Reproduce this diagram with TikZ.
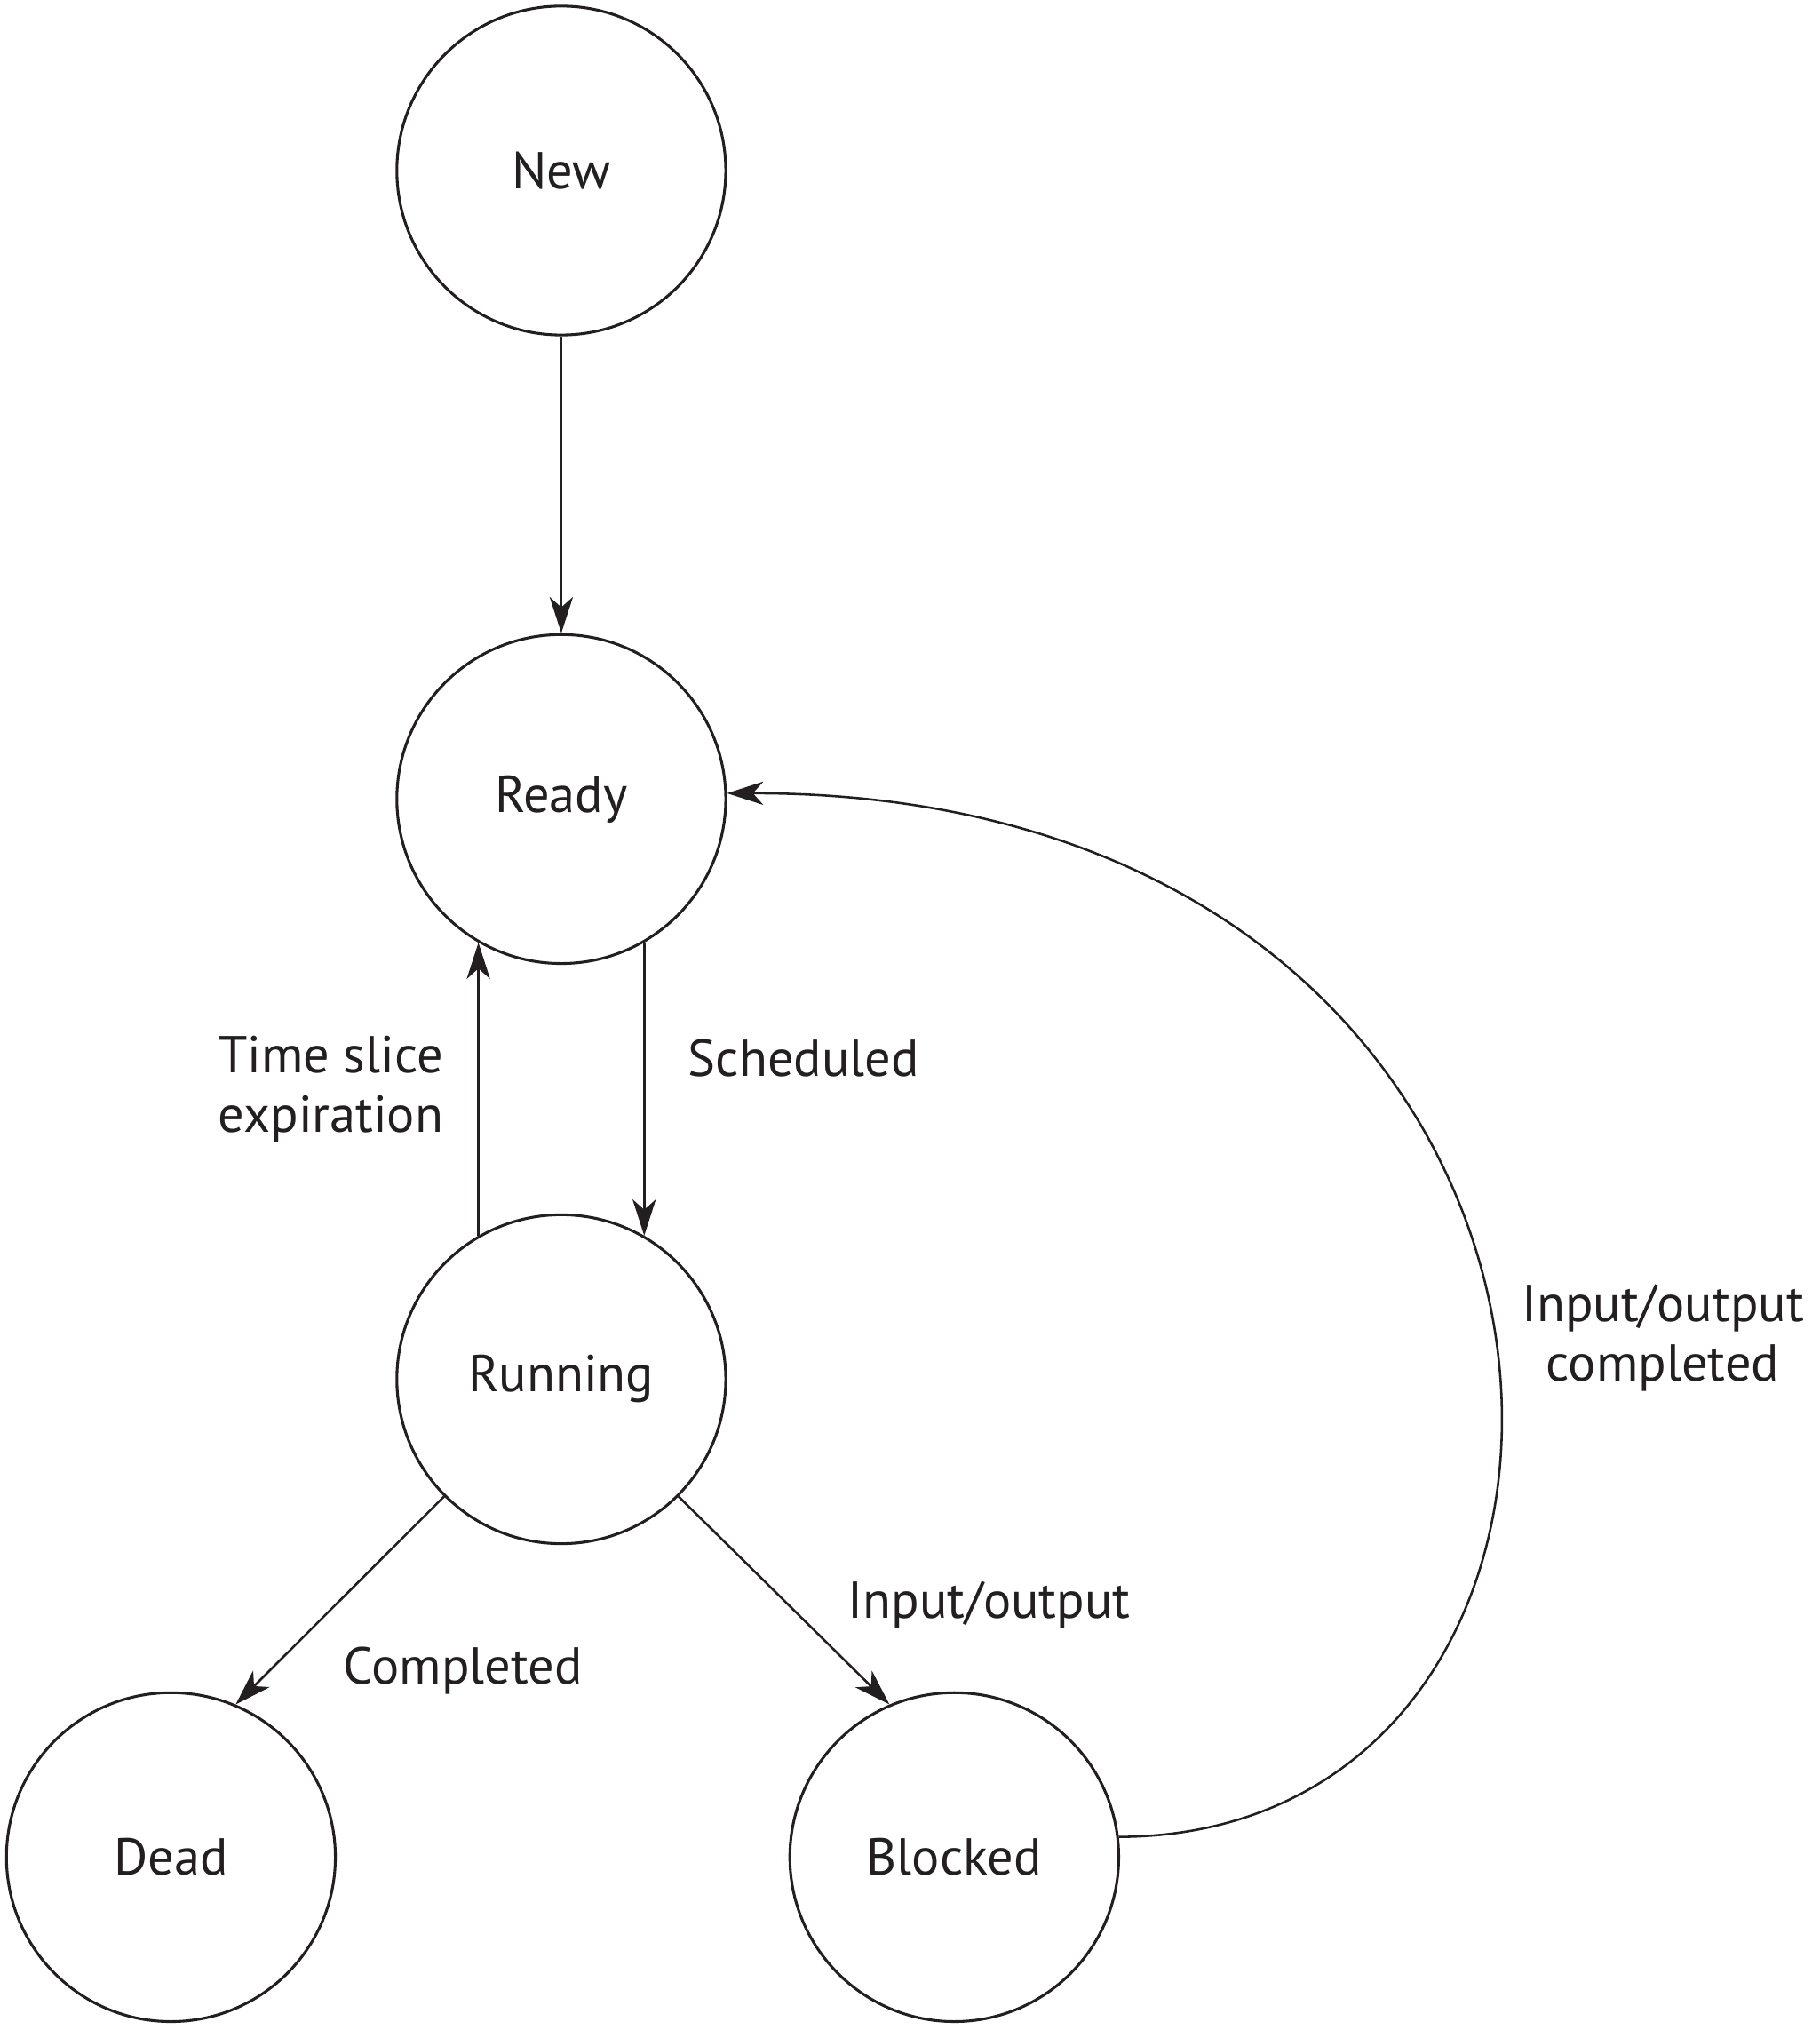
\documentclass[tikz,border=0pt]{standalone}
\usepackage{fontspec}
\setmainfont{PT Sans}
\usepackage{tikz}
\usetikzlibrary{arrows.meta}

\definecolor{ink}{HTML}{231F20}

\begin{document}
\begin{tikzpicture}
	[
	 color = ink,
	 every node/.style = {shape=circle,
		                  draw,
		                  align=center,
		                  font=\fontsize{11.4}{13.1}\selectfont,
		                  minimum size = 25.4mm,
		                  inner sep = 0pt,
		                  line width = 0.6pt
	                     },
	 conn/.style = {-{Stealth[length=2.8mm,width=1.8mm,inset=0.8mm]},
	                line width = 0.5pt},
	 lbl/.style  = {draw = none,
	                shape = rectangle,
	                minimum size = 0pt,
	                inner sep = 0pt}
	]
	\useasboundingbox (0,0) rectangle (14.05,-15.675);

	\node (new)     at (4.335,-1.317) {New};
	\node (ready)   at (4.335,-6.17)  {Ready};
	\node (running) at (4.335,-10.65) {Running};
	\node (dead)    at (1.32,-14.34)  {Dead};
	\node (blocked) at (7.37,-14.34)  {Blocked};

	\draw[conn] (new) -- (ready);
	\draw[conn] (running.120) -- (ready.240);
	\draw[conn] (ready.300) -- (running.60);
	\draw[conn] (running.225) -- (dead.67);
	\draw[conn] (running.315) -- (blocked.113);
	\draw[conn] (blocked.7) .. controls (13.07,-14.17) and (12.84,-6.12) .. (ready.2);

	 \begin{scope}[nodes = {lbl}]
	   \path (running.120) -- (ready.240) node [pos=.5, left=2.6mm]    (ltime)   {Time slice\\expiration};
	   \path (ready.300) -- (running.60)  node [pos=.395, right=3.3mm] (lsched)  {Scheduled};
	   \path (running.225) -- (dead.67)   node [pos=.836, right=5.6mm] (ldone)   {Completed};
	   \path (running.315) -- (blocked.113) node [pos=.52, right=4.5mm] (lio)    {Input/output};
	   \path (blocked.7) .. controls (13.07,-14.17) and (12.84,-6.12) .. (ready.2)
	         node [pos=.485, right=2.1mm] (liodone) {Input/output\\completed};
	 \end{scope}
\end{tikzpicture}
\end{document}
